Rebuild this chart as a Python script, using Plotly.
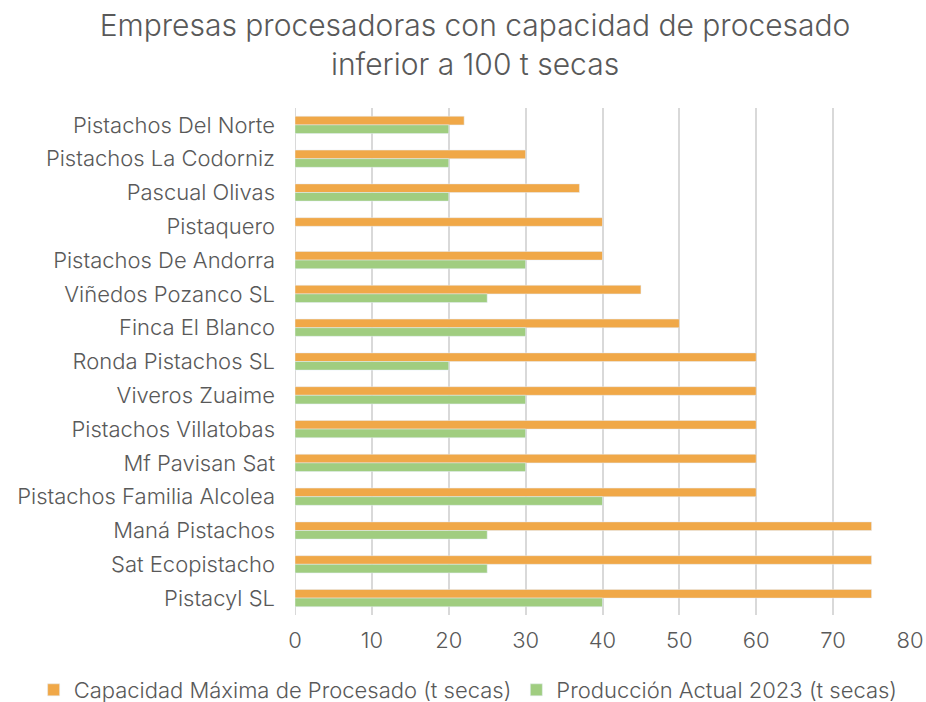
import plotly.graph_objects as go

categories = [
    "Pistachos Del Norte", "Pistachos La Codorniz", "Pascual Olivas", "Pistaquero",
    "Pistachos De Andorra", "Viñedos Pozanco SL", "Finca El Blanco", "Ronda Pistachos SL",
    "Viveros Zuaime", "Pistachos Villatobas", "Mf Pavisan Sat", "Pistachos Familia Alcolea",
    "Maná Pistachos", "Sat Ecopistacho", "Pistacyl SL",
]
capacidad = [22, 30, 37, 40, 40, 45, 50, 60, 60, 60, 60, 60, 75, 75, 75]
produccion = [20, 20, 20, None, 30, 25, 30, 20, 30, 30, 30, 40, 25, 25, 40]
x_ticks = [0, 10, 20, 30, 40, 50, 60, 70, 80]

font_family = "Inter"
text_color = "#595959"

fig = go.Figure()
fig.add_trace(go.Bar(
    y=categories, x=capacidad, orientation="h",
    name="Capacidad Máxima de Procesado (t secas)",
    marker=dict(color="#F0A848"),
))
fig.add_trace(go.Bar(
    y=categories, x=produccion, orientation="h",
    name="Producción Actual 2023 (t secas)",
    marker=dict(color="#A0CD80"),
))

fig.update_layout(
    width=926, height=702,
    barmode="group", bargap=0.49, bargroupgap=0,
    paper_bgcolor="white", plot_bgcolor="white",
    margin=dict(l=295, r=16, t=108, b=87, autoexpand=False),
    title=dict(
        text="Empresas procesadoras con capacidad de procesado<br>inferior a 100 t secas",
        x=0.513, xanchor="center", y=1 - 36 / 702, yanchor="middle",
        font=dict(family=font_family, size=30, color=text_color, weight=300),
    ),
    font=dict(family=font_family, size=22, color=text_color, weight=300),
    legend=dict(
        orientation="h", x=-0.425, xanchor="left", y=-0.148, yanchor="middle",
        font=dict(size=22, color=text_color, weight=300),
        traceorder="normal", itemwidth=30,
    ),
    xaxis=dict(
        range=[0, 80], tickvals=x_ticks, showgrid=True, gridcolor="#D9D9D9", gridwidth=2,
        zeroline=False, showline=False, ticks="", ticklabelstandoff=10,
        tickfont=dict(size=22, color=text_color), automargin=False,
    ),
    yaxis=dict(
        autorange="reversed", showgrid=False, showline=False, ticks="",
        ticklabelstandoff=19, tickfont=dict(size=22, color=text_color), automargin=False,
    ),
)
fig.add_vline(x=0, line=dict(color="#D9D9D9", width=2), layer="below")

fig.write_html("out.html", config={"displayModeBar": False},
               post_script="document.body.style.margin='0';")
